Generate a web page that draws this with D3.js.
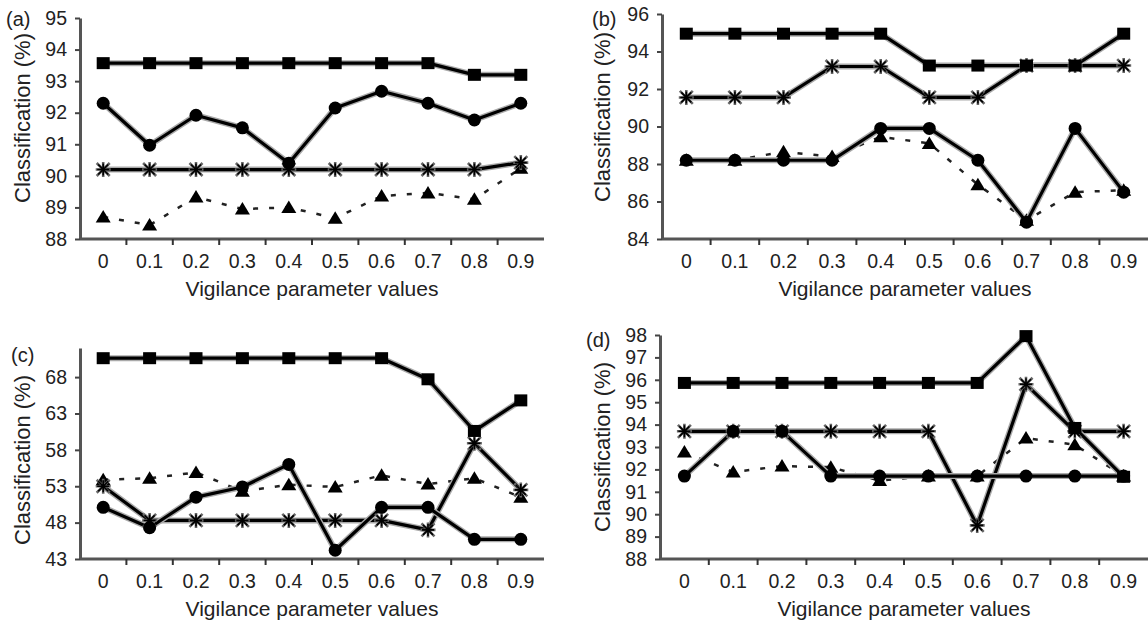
<!DOCTYPE html>
<html>
<head>
<meta charset="utf-8">
<script src="https://cdn.jsdelivr.net/npm/d3@7"></script>
<style>
  body { margin: 0; background: #fff; }
  svg { display: block; font-family: "Liberation Sans", Arial, sans-serif; }
</style>
</head>
<body>
<svg id="chart" width="1148" height="622"></svg>
<script>
// vigilance parameter categories (x axis)
var cats = ["0", "0.1", "0.2", "0.3", "0.4", "0.5", "0.6", "0.7", "0.8", "0.9"];

// panel (a)
var aTicks = [88, 89, 90, 91, 92, 93, 94, 95];
var aSquare = [93.57, 93.57, 93.57, 93.57, 93.57, 93.57, 93.57, 93.57, 93.2, 93.2];
var aCircle = [92.3, 90.97, 91.92, 91.52, 90.4, 92.15, 92.68, 92.3, 91.77, 92.3];
var aStar = [90.2, 90.2, 90.2, 90.2, 90.2, 90.2, 90.2, 90.2, 90.2, 90.42];
var aTriangle = [88.7, 88.44, 89.33, 88.95, 89.0, 88.66, 89.36, 89.46, 89.26, 90.24];

// panel (b)
var bTicks = [84, 86, 88, 90, 92, 94, 96];
var bSquare = [94.95, 94.95, 94.95, 94.95, 94.95, 93.25, 93.25, 93.25, 93.25, 94.95];
var bCircle = [88.2, 88.2, 88.2, 88.2, 89.9, 89.9, 88.2, 84.9, 89.9, 86.5];
var bStar = [91.55, 91.55, 91.55, 93.2, 93.2, 91.55, 91.55, 93.25, 93.25, 93.25];
var bTriangle = [88.2, 88.2, 88.65, 88.4, 89.45, 89.1, 86.9, 85.0, 86.5, 86.6];

// panel (c)
var cTicks = [43, 48, 53, 58, 63, 68];
var cSquare = [70.6, 70.6, 70.6, 70.6, 70.6, 70.6, 70.6, 67.7, 60.6, 64.8];
var cCircle = [50.1, 47.3, 51.5, 52.9, 56.0, 44.2, 50.1, 50.1, 45.7, 45.7];
var cStar = [53.0, 48.3, 48.3, 48.3, 48.3, 48.3, 48.3, 47.0, 58.9, 52.5];
var cTriangle = [53.9, 54.1, 54.9, 52.3, 53.2, 52.9, 54.5, 53.3, 54.1, 51.5];

// panel (d)
var dTicks = [88, 89, 90, 91, 92, 93, 94, 95, 96, 97, 98];
var dSquare = [95.86, 95.86, 95.86, 95.86, 95.86, 95.86, 95.86, 97.95, 93.85, 91.67];
var dCircle = [91.7, 93.7, 93.7, 91.7, 91.7, 91.7, 91.7, 91.7, 91.7, 91.7];
var dStar = [93.7, 93.7, 93.7, 93.7, 93.7, 93.7, 89.5, 95.8, 93.7, 93.7];
var dTriangle = [92.78, 91.88, 92.15, 92.1, 91.5, 91.7, 91.7, 93.4, 93.1, 91.7];

var panels = [
  {label: "(a)", x0: 80, x1: 544, top: 18, bottom: 239, domain: [88, 95], ticks: aTicks,
   labelX: 6, labelY: 26, titleX: 30, titleY: 118,
   square: aSquare, circle: aCircle, star: aStar, triangle: aTriangle},
  {label: "(b)", x0: 662, x1: 1148, top: 14, bottom: 239, domain: [84, 96], ticks: bTicks,
   labelX: 592, labelY: 26, titleX: 610, titleY: 117,
   square: bSquare, circle: bCircle, star: bStar, triangle: bTriangle},
  {label: "(c)", x0: 80, x1: 544, top: 348, bottom: 559, domain: [43, 72], ticks: cTicks,
   labelX: 11, labelY: 362, titleX: 30, titleY: 460,
   square: cSquare, circle: cCircle, star: cStar, triangle: cTriangle},
  {label: "(d)", x0: 660, x1: 1148, top: 335, bottom: 559, domain: [88, 98], ticks: dTicks,
   labelX: 586, labelY: 347, titleX: 610, titleY: 447,
   square: dSquare, circle: dCircle, star: dStar, triangle: dTriangle}
];

var svg = d3.select("#chart");

function starPath(s) {
  return "M" + (-s) + "," + (-s) + "L" + s + "," + s +
         "M" + (-s) + "," + s + "L" + s + "," + (-s) +
         "M0," + (-s - 1) + "L0," + (s + 1) +
         "M" + (-s - 1) + ",0L" + (s + 1) + ",0";
}

panels.forEach(function(p) {
  var g = svg.append("g");

  var x = d3.scaleBand().domain(cats).range([p.x0, p.x1]);
  var cx = function(d, i) { return x(cats[i]) + x.bandwidth() / 2; };
  var y = d3.scaleLinear().domain(p.domain).range([p.bottom, p.top]);

  // y axis
  var yAxis = g.append("g")
    .attr("transform", "translate(" + p.x0 + ",0)")
    .call(d3.axisLeft(y).tickValues(p.ticks).tickFormat(d3.format("d"))
      .tickSize(5).tickSizeOuter(0).tickPadding(8));
  yAxis.select(".domain").attr("stroke", "#555").attr("stroke-width", 3);
  yAxis.selectAll(".tick line").attr("stroke", "#444").attr("stroke-width", 2);
  yAxis.selectAll("text").attr("font-size", 19.5).attr("fill", "#222")
    .attr("font-family", "Liberation Sans, Arial, sans-serif");

  // x axis: labels at category centres, tick marks between categories
  var xAxis = g.append("g")
    .attr("transform", "translate(0," + p.bottom + ")")
    .call(d3.axisBottom(x).tickSize(0).tickPadding(15));
  xAxis.select(".domain").remove();
  xAxis.selectAll("text").attr("font-size", 19.5).attr("fill", "#222")
    .attr("font-family", "Liberation Sans, Arial, sans-serif");
  g.append("line")
    .attr("x1", p.x0).attr("x2", p.x1)
    .attr("y1", p.bottom).attr("y2", p.bottom)
    .attr("stroke", "#555").attr("stroke-width", 3);
  g.selectAll(".btick")
    .data(cats.slice(1))
    .enter().append("line")
    .attr("x1", function(d) { return x(d); })
    .attr("x2", function(d) { return x(d); })
    .attr("y1", p.bottom).attr("y2", p.bottom + 6)
    .attr("stroke", "#333").attr("stroke-width", 2);

  // titles
  g.append("text")
    .attr("x", (p.x0 + p.x1) / 2).attr("y", p.bottom + 57)
    .attr("text-anchor", "middle").attr("font-size", 21).attr("fill", "#222")
    .text("Vigilance parameter values");
  g.append("text")
    .attr("transform", "translate(" + p.titleX + "," + p.titleY + ") rotate(-90)")
    .attr("text-anchor", "middle").attr("font-size", 22).attr("fill", "#222")
    .text("Classification (%)");
  g.append("text")
    .attr("x", p.labelX).attr("y", p.labelY)
    .attr("font-size", 20).attr("fill", "#222")
    .text(p.label);

  var line = d3.line().x(cx).y(function(d) { return y(d); });

  // triangle series: dashed
  g.append("path").datum(p.triangle)
    .attr("d", line).attr("fill", "none")
    .attr("stroke", "#222").attr("stroke-width", 2.5)
    .attr("stroke-dasharray", "5,11");
  g.selectAll(".tri").data(p.triangle).enter().append("path")
    .attr("transform", function(d, i) { return "translate(" + cx(d, i) + "," + y(d) + ")"; })
    .attr("d", "M0,-7L7.5,5.5L-7.5,5.5Z")
    .attr("fill", "#000");

  // solid series with a grey halo
  [p.star, p.circle, p.square].forEach(function(vals) {
    g.append("path").datum(vals)
      .attr("d", line).attr("fill", "none")
      .attr("stroke", "#aaa").attr("stroke-width", 6).attr("stroke-linejoin", "round");
    g.append("path").datum(vals)
      .attr("d", line).attr("fill", "none")
      .attr("stroke", "#000").attr("stroke-width", 3.2).attr("stroke-linejoin", "round");
  });

  g.selectAll(".star").data(p.star).enter().append("path")
    .attr("transform", function(d, i) { return "translate(" + cx(d, i) + "," + y(d) + ")"; })
    .attr("d", starPath(6.5))
    .attr("fill", "none").attr("stroke", "#666").attr("stroke-width", 2.6);
  g.selectAll(".star2").data(p.star).enter().append("path")
    .attr("transform", function(d, i) { return "translate(" + cx(d, i) + "," + y(d) + ")"; })
    .attr("d", starPath(5))
    .attr("fill", "none").attr("stroke", "#000").attr("stroke-width", 1.6);

  g.selectAll(".dot").data(p.circle).enter().append("circle")
    .attr("cx", cx).attr("cy", function(d) { return y(d); })
    .attr("r", 6.5).attr("fill", "#000");

  g.selectAll(".sq").data(p.square).enter().append("rect")
    .attr("x", function(d, i) { return cx(d, i) - 6.5; })
    .attr("y", function(d) { return y(d) - 6; })
    .attr("width", 13).attr("height", 12)
    .attr("fill", "#000");
});
</script>
</body>
</html>
